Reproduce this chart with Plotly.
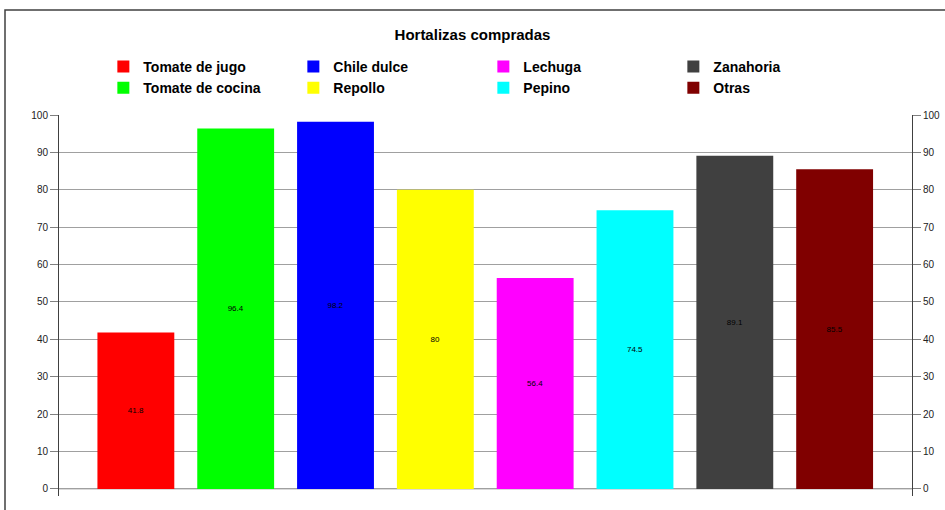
import plotly.graph_objects as go

categories = ["Tomate de jugo", "Tomate de cocina", "Chile dulce", "Repollo",
              "Lechuga", "Pepino", "Zanahoria", "Otras"]
values = [41.8, 96.4, 98.2, 80, 56.4, 74.5, 89.1, 85.5]
colors = ["#ff0000", "#00ff00", "#0000ff", "#ffff00",
          "#ff00ff", "#00ffff", "#404040", "#800000"]
legend_ranks = [1, 5, 2, 6, 3, 7, 4, 8]
y_ticks = [0, 10, 20, 30, 40, 50, 60, 70, 80, 90, 100]

FONT = "Liberation Sans, Arial, sans-serif"

fig = go.Figure()
for cat, val, col, rk in zip(categories, values, colors, legend_ranks):
    fig.add_trace(go.Bar(
        x=[cat], y=[val], name=f"<b>{cat}</b>", marker=dict(color=col, line=dict(width=0)),
        text=[f"{val:g}"], textposition="inside", insidetextanchor="middle",
        textfont=dict(color="black", size=8, family=FONT),
        legendrank=rk, width=0.77,
    ))

# invisible trace for right axis
fig.add_trace(go.Scatter(x=[categories[0]], y=[0], yaxis="y2", mode="markers",
                         marker=dict(opacity=0), showlegend=False, hoverinfo="skip"))

fig.update_layout(
    width=945, height=510,
    margin=dict(l=59, r=33, t=115, b=14, autoexpand=False),
    paper_bgcolor="white", plot_bgcolor="white",
    barmode="overlay",
    uniformtext=dict(minsize=8, mode="show"),
    title=dict(text="<b>Hortalizas compradas</b>", x=0.5, xanchor="center",
               y=1 - 35 / 510, yanchor="middle", yref="container",
               font=dict(family=FONT, size=15, color="black")),
    showlegend=True,
    legend=dict(orientation="h", x=0.052, xanchor="left", y=1.168, yanchor="top",
                entrywidth=145, entrywidthmode="pixels", traceorder="normal",
                font=dict(family=FONT, size=14, color="black"),
                bgcolor="rgba(0,0,0,0)", tracegroupgap=0, itemwidth=30),
    xaxis=dict(type="category", categoryorder="array", categoryarray=categories,
               range=[-0.77, 7.775], showticklabels=False, showgrid=False,
               zeroline=False, showline=False, ticks="", automargin=False),
    yaxis=dict(range=[-1.9, 100], tickvals=y_ticks, ticks="outside", ticklen=8,
               tickcolor="#808080", showline=True, linecolor="#404040", linewidth=1,
               showgrid=True, gridcolor="#a0a0a0", gridwidth=1, automargin=False,
               zeroline=False, tickfont=dict(family=FONT, size=10, color="#222")),
    yaxis2=dict(range=[-1.9, 100], tickvals=y_ticks, overlaying="y", side="right",
                ticks="outside", ticklen=8, tickcolor="#808080", showline=True,
                linecolor="#404040", linewidth=1, showgrid=False, zeroline=False,
                automargin=False,
                tickfont=dict(family=FONT, size=10, color="#222")),
    shapes=[
        dict(type="line", xref="paper", yref="y", x0=0, x1=1, y0=0, y1=0,
             line=dict(color="#a0a0a0", width=1), layer="below"),
        dict(type="rect", xref="paper", yref="paper",
             x0=(5 - 59) / 853, x1=1.2, y0=-0.2, y1=(496 - 10) / 381,
             line=dict(color="#404040", width=1.5), fillcolor="rgba(0,0,0,0)"),
    ],
)

fig.write_html("out.html")
